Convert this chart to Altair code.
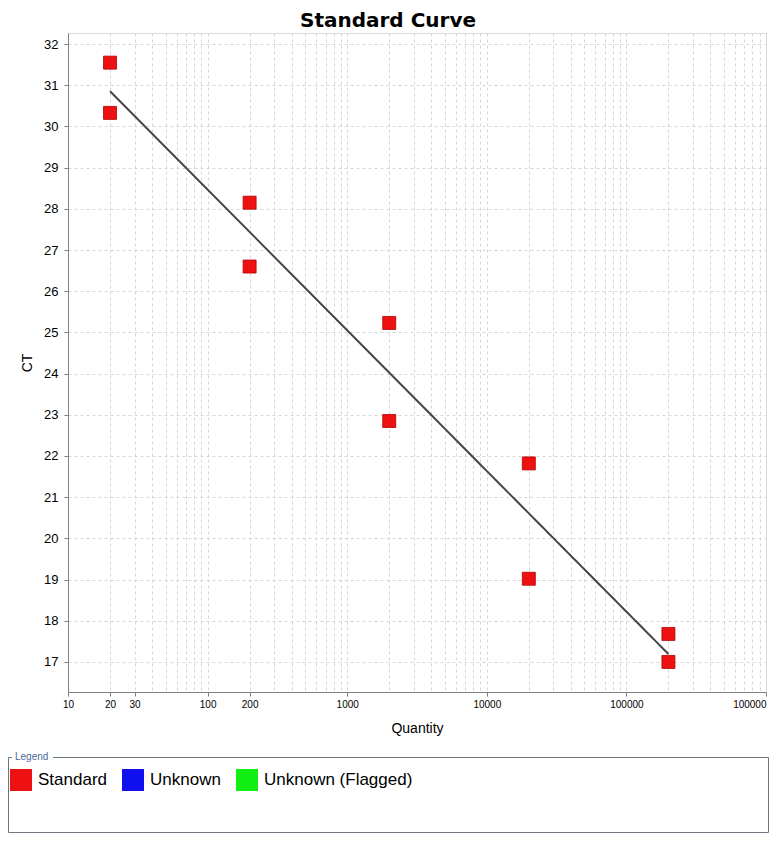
import altair as alt
import pandas as pd

# ---- data ----
quantity = [20, 20, 200, 200, 2000, 2000, 20000, 20000, 200000, 200000]
ct = [31.55, 30.33, 28.15, 26.60, 25.23, 22.85, 21.82, 19.02, 17.68, 17.00]
task = ["Standard"] * 10

legend_entries = ["Standard", "Unknown", "Unknown (Flagged)"]
legend_colors = ["#ee1111", "#1010ee", "#11ee11"]

x_label_ticks = [10, 20, 30, 100, 200, 1000, 10000, 100000, 1000000]
x_grid_ticks = [m * 10 ** e for e in range(1, 6) for m in range(1, 10)] + [1000000]
y_ticks = list(range(17, 33))

df = pd.DataFrame({"Quantity": quantity, "Ct": ct, "Task": task})
one = pd.DataFrame({"k": [0]})

FONT = "Liberation Sans"
GRID = "#d6d6d6"
AXIS = "#808080"
FRAME = "#6f7782"

xscale = alt.Scale(type="log", domain=[10, 1000000], nice=False)
yscale = alt.Scale(domain=[16.27, 32.27], nice=False, zero=False)

base = alt.Chart(df)

grid_layer = base.mark_point(opacity=0).encode(
    x=alt.X("Quantity:Q", scale=xscale,
            axis=alt.Axis(orient="bottom", values=x_grid_ticks, grid=True, labels=False,
                          ticks=False, domain=False, title=None, gridColor=GRID,
                          gridDash=[3, 3], gridWidth=1)),
    y=alt.Y("Ct:Q", scale=yscale,
            axis=alt.Axis(orient="left", values=y_ticks, grid=True, gridColor=GRID,
                          gridDash=[3, 3],
                          title="CT", titleFontSize=14, titleFontWeight="normal",
                          titleX=-41, titleY=329.5, titleAngle=-90, titleAlign="center",
                          titleBaseline="middle", labelFontSize=13, labelPadding=6,
                          tickSize=4, domainColor=AXIS, tickColor=AXIS,
                          labelColor="black")),
)

line_layer = base.transform_regression("Quantity", "Ct", method="log").mark_line(
    color="#454545", strokeWidth=2
).encode(
    x=alt.X("Quantity:Q", scale=xscale, axis=None),
    y=alt.Y("Ct:Q", scale=yscale, axis=None),
)

points_layer = base.mark_square(size=169, filled=True, opacity=1,
                                stroke="#b00000", strokeWidth=0.8).encode(
    x=alt.X("Quantity:Q", scale=xscale,
            axis=alt.Axis(orient="bottom", values=x_label_ticks, grid=False,
                          title="Quantity", titleFontSize=14, titleFontWeight="normal",
                          titleY=36, titleBaseline="middle",
                          labelExpr="datum.value >= 1000000 ? '100000' : format(datum.value, 'd')",
                          labelAlign={"condition": {"test": "datum.value >= 1000000",
                                                    "value": "right"},
                                      "value": "center"},
                          labelFontSize=10, labelPadding=3, tickSize=4,
                          domainColor=AXIS, tickColor=AXIS, labelColor="black",
                          labelFlush=False, labelOverlap=False)),
    y=alt.Y("Ct:Q", scale=yscale, axis=None),
    color=alt.Color("Task:N",
                    scale=alt.Scale(domain=legend_entries, range=legend_colors),
                    legend=alt.Legend(title=None, orient="none", legendX=-58, legendY=736,
                                      direction="horizontal", symbolType="square",
                                      symbolSize=484, symbolStrokeWidth=0,
                                      symbolOpacity=1, labelFontSize=17, labelFont=FONT,
                                      labelColor="black", columnPadding=15,
                                      labelOffset=6, padding=0, labelLimit=300,
                                      symbolOffset=0)),
)


def hrule(x1, x2, y):
    return alt.Chart(one).mark_rule(color=FRAME, strokeWidth=1).encode(
        x=alt.value(x1), x2=alt.value(x2), y=alt.value(y))


def vrule(x, y1, y2):
    return alt.Chart(one).mark_rule(color=FRAME, strokeWidth=1).encode(
        x=alt.value(x), y=alt.value(y1), y2=alt.value(y2))


L, R, T, B = -59.5, 700.5, 724.5, 799.5
frame_layers = [
    hrule(L, -56, T),
    hrule(-15, R, T),
    hrule(L, R, B),
    vrule(L, T, B),
    vrule(R, T, B),
]

legend_title = alt.Chart(one).mark_text(
    text="Legend", font=FONT, fontSize=10, color="#4b6b9b", align="left", baseline="middle"
).encode(x=alt.value(-53), y=alt.value(724))

chart = alt.layer(grid_layer, line_layer, points_layer, *frame_layers, legend_title).resolve_axis(
    x="independent", y="independent"
).properties(
    width=698,
    height=659,
    padding={"left": 60, "top": 25, "right": 4, "bottom": 142},
    autosize=alt.AutoSizeParams(type="none"),
    title=alt.TitleParams("Standard Curve", font="DejaVu Sans", fontSize=20,
                          fontWeight="bold", anchor="middle", frame="group", dx=-29,
                          dy=17, offset=3, baseline="alphabetic", color="black"),
).configure_view(stroke="#c4c4c4", strokeWidth=1).configure_axis(
    labelFont=FONT, titleFont=FONT, titleColor="black"
).configure(background="white")

chart.save("out.html", embed_options={"renderer": "svg", "actions": False})
